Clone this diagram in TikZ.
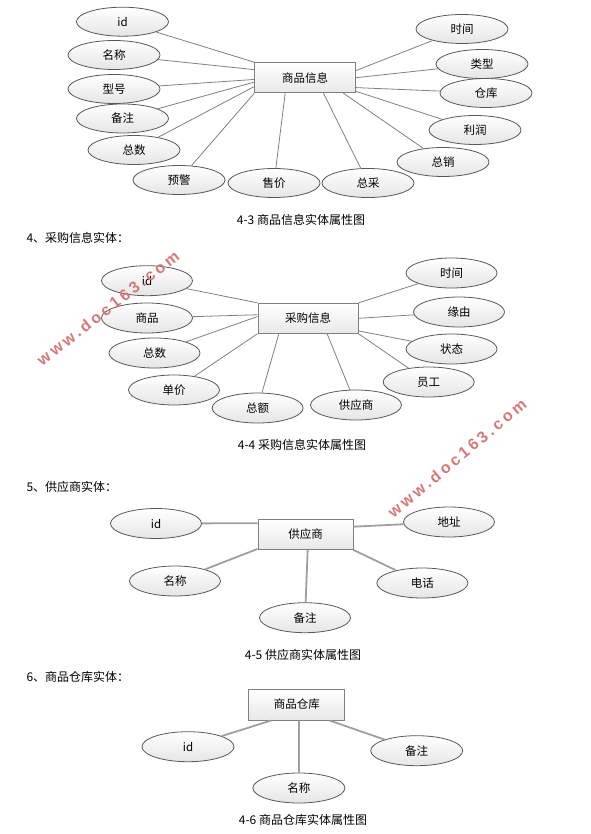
\documentclass[tikz,border=0pt]{standalone}
\usepackage{fontspec}
\usepackage{tikz}
\usetikzlibrary{shapes.geometric}
\newfontfamily\cjk{Noto Sans CJK SC}
\newfontfamily\wmfont[LetterSpace=20]{Liberation Sans}
\definecolor{wmred}{RGB}{215,120,120}
\definecolor{edgegray}{RGB}{128,128,128}

\begin{document}
\begin{tikzpicture}[x=1pt, y=-1pt,
		ent/.style={draw=edgegray, line width=1pt, top color=white, bottom color=gray!18, minimum width=101pt, minimum height=30pt, inner sep=0pt, font=\cjk\fontsize{11.5}{13}\selectfont},
		attr/.style={ellipse, draw=black!65, line width=.8pt, top color=white, bottom color=gray!20, minimum width=92pt, minimum height=29pt, inner sep=0pt, font=\cjk\fontsize{11.5}{13}\selectfont},
		link/.style={draw=edgegray, line width=.8pt},
		thick link/.style={draw=gray!75, line width=1.8pt},
		figcap/.style={font=\cjk\fontsize{12}{14}\selectfont},
		head/.style={anchor=west, font=\cjk\fontsize{12}{14}\selectfont}]
		\useasboundingbox (0, 0) rectangle (590, 834);
		
		\node[ent] (sp) at (305, 77.7) {商品信息};
		\node[attr] (sp1) at (122.5, 21.7) {id};
		\node[attr] (sp2) at (114, 55) {名称};
		\node[attr] (sp3) at (114, 89) {型号};
		\node[attr] (sp4) at (122.5, 118.5) {备注};
		\node[attr] (sp5) at (134, 150) {总数};
		\node[attr] (sp6) at (179, 180) {预警};
		\node[attr] (sp7) at (274, 183) {售价};
		\node[attr] (sp8) at (368, 183) {总采};
		\node[attr] (sp9) at (443, 162) {总销};
		\node[attr] (sp10) at (475, 130) {利润};
		\node[attr] (sp11) at (486, 93) {仓库};
		\node[attr] (sp12) at (482, 64) {类型};
		\node[attr] (sp13) at (462, 29) {时间};
		\node[figcap] (cap3) at (301, 220) {4-3 商品信息实体属性图};
		
		\path[link] (sp.163) edge (sp1)
			(sp.171.4) edge (sp2)
			(sp.182.6) edge (sp3)
			(sp.185.6) edge (sp4)
			(sp.190.3) edge (sp5)
			(sp.197) edge (sp6)
			(sp.218.3) edge (sp7)
			(sp.320.7) edge (sp8)
			(sp.338.5) edge (sp9)
			(sp.345) edge (sp10)
			(sp.349.3) edge (sp11)
			(sp.0.5) edge (sp12)
			(sp.8.6) edge (sp13);
		
		\node[head] (h4) at (23, 238) {4、采购信息实体：};
		\node[ent, minimum width=100pt] (cg) at (308, 318.3) {采购信息};
		\node[attr, minimum width=91pt, minimum height=30pt] (cg1) at (147, 280.7) {id};
		\node[attr, minimum width=91pt, minimum height=30pt] (cg2) at (147, 318) {商品};
		\node[attr, minimum width=91pt, minimum height=30pt] (cg3) at (154.5, 353) {总数};
		\node[attr, minimum width=91pt, minimum height=30pt] (cg4) at (174, 390) {单价};
		\node[attr, minimum width=91pt, minimum height=30pt] (cg5) at (257.6, 408) {总额};
		\node[attr, minimum width=91pt, minimum height=30pt] (cg6) at (356, 405) {供应商};
		\node[attr, minimum width=91pt, minimum height=30pt] (cg7) at (428.7, 382) {员工};
		\node[attr, minimum width=91pt, minimum height=30pt] (cg8) at (451.5, 349) {状态};
		\node[attr, minimum width=91pt, minimum height=30pt] (cg9) at (459, 312) {缘由};
		\node[attr, minimum width=91pt, minimum height=30pt] (cg10) at (451.5, 273) {时间};
		\node[figcap] (cap4) at (302, 445) {4-4 采购信息实体属性图};
		
		\path[link] (cg.163) edge (cg1)
			(cg.176.2) edge (cg2)
			(cg.178) edge (cg3)
			(cg.197) edge (cg4)
			(cg.208.4) edge (cg5)
			(cg.321) edge (cg6)
			(cg.343) edge (cg7)
			(cg.346.8) edge (cg8)
			(cg.0) edge (cg9)
			(cg.17) edge (cg10);
		
		\node[head] (h5) at (23, 486.7) {5、供应商实体：};
		\node[ent, minimum width=95pt] (gys) at (305.5, 534.3) {供应商};
		\node[attr, minimum width=91pt, minimum height=30pt] (gys1) at (156, 523.5) {id};
		\node[attr, minimum width=91pt, minimum height=30pt] (gys2) at (449, 522) {地址};
		\node[attr, minimum width=91pt, minimum height=30pt] (gys3) at (175, 581) {名称};
		\node[attr, minimum width=91pt, minimum height=30pt] (gys4) at (422.4, 583) {电话};
		\node[attr, minimum width=91pt, minimum height=30pt] (gys5) at (305, 617.7) {备注};
		\node[figcap] (cap5) at (303, 655) {4-5 供应商实体属性图};
		
		\path[thick link] (gys.167.8) edge (gys1)
			(gys.9.1) edge (gys2)
			(gys.197.5) edge (gys3)
			(gys.342.5) edge (gys4)
			(gys.278) edge (gys5);
		
		\node[head] (h6) at (23, 676.7) {6、商品仓库实体：};
		\node[ent, minimum width=96pt, minimum height=31pt] (ck) at (296.8, 704.5) {商品仓库};
		\node[attr, minimum height=30pt] (ck1) at (188, 746.7) {id};
		\node[attr, minimum height=30pt] (ck2) at (298.9, 788) {名称};
		\node[attr, minimum height=30pt] (ck3) at (416.7, 750.7) {备注};
		\node[figcap] (cap6) at (303, 820) {4-6 商品仓库实体属性图};
		
		\path[thick link] (ck.212.7) edge (ck1)
			(ck.278.8) edge (ck2)
			(ck.334.2) edge (ck3);
		
		\node[rotate=38, text=wmred, font=\wmfont\bfseries\fontsize{16}{18}\selectfont] (wm1) at (108, 308) {www.doc163.com};
		\node[rotate=40, text=wmred, font=\wmfont\bfseries\fontsize{16}{18}\selectfont] (wm2) at (457, 458) {www.doc163.com};
	\end{tikzpicture}
\end{document}
